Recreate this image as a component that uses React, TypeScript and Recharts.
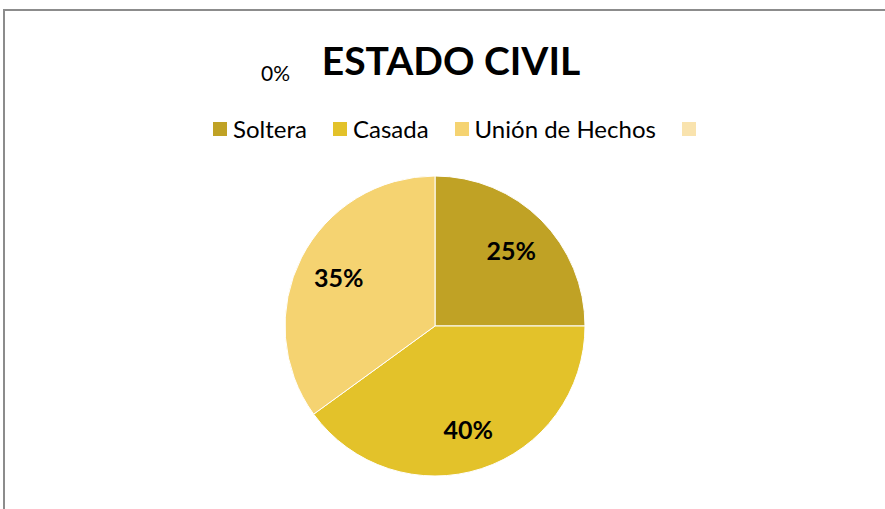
import { Cell, Legend, Pie, PieChart } from "recharts";

const categories = ["Soltera", "Casada", "Unión de Hechos", ""];
const values = [25, 40, 35, 0];
const colors = ["#C0A225", "#E3C22A", "#F5D371", "#F9E3AE"];

const data = categories.map((name, i) => ({ name, value: values[i] }));

const RADIAN = Math.PI / 180;

function renderLabel(props: any) {
  const { cx, cy, midAngle, outerRadius, percent, value } = props;
  const pct = `${Math.round(percent * 100)}%`;
  if (value === 0) {
    // Excel pushed the empty slice's label out next to the title
    return (
      <text x={cx - 174} y={cy - 245} fontFamily="Lato" fontSize={21} fill="#000">
        {pct}
      </text>
    );
  }
  const r = outerRadius * 0.72;
  const x = cx + r * Math.cos(-midAngle * RADIAN);
  const y = cy + r * Math.sin(-midAngle * RADIAN);
  return (
    <text
      x={x}
      y={y}
      textAnchor="middle"
      dominantBaseline="central"
      fontFamily="Lato"
      fontWeight={700}
      fontSize={25}
      fill="#000"
    >
      {pct}
    </text>
  );
}

function LegendContent() {
  return (
    <div style={{ display: "flex", alignItems: "center", fontFamily: "Lato", fontSize: 24, color: "#000" }}>
      {categories.map((c, i) => (
        <div key={i} style={{ display: "flex", alignItems: "center", marginRight: 26 }}>
          <span style={{ width: 14, height: 14, background: colors[i], display: "inline-block", marginRight: 6 }} />
          <span>{c}</span>
        </div>
      ))}
    </div>
  );
}

export default function App() {
  return (
    <div
      style={{
        position: "absolute",
        left: 0,
        top: 0,
        width: 885,
        height: 509,
        overflow: "hidden",
        background: "#fff",
      }}
    >
      <div
        style={{
          position: "absolute",
          left: 3,
          top: 9,
          width: 1000,
          height: 700,
          border: "2px solid #8c8c8c",
          boxSizing: "border-box",
        }}
      />
      <div
        style={{
          position: "absolute",
          left: 0,
          width: 902,
          top: 36,
          textAlign: "center",
          fontFamily: "Lato",
          fontWeight: 700,
          fontSize: 39,
          lineHeight: "48px",
          color: "#000",
        }}
      >
        ESTADO CIVIL
      </div>
      <div style={{ position: "absolute", left: 0, top: 0 }}>
        <PieChart width={885} height={509} margin={{ top: 0, right: 0, bottom: 0, left: 0 }}>
          <Legend
            content={<LegendContent />}
            wrapperStyle={{ left: 213, top: 114, width: "auto" }}
          />
          <Pie
            data={data}
            dataKey="value"
            nameKey="name"
            cx={435}
            cy={326}
            outerRadius={150}
            startAngle={90}
            endAngle={-270}
            stroke="#fff"
            strokeWidth={1}
            label={renderLabel}
            labelLine={false}
            isAnimationActive={false}
          >
            {data.map((d, i) => (
              <Cell key={d.name + i} fill={colors[i]} />
            ))}
          </Pie>
        </PieChart>
      </div>
    </div>
  );
}
